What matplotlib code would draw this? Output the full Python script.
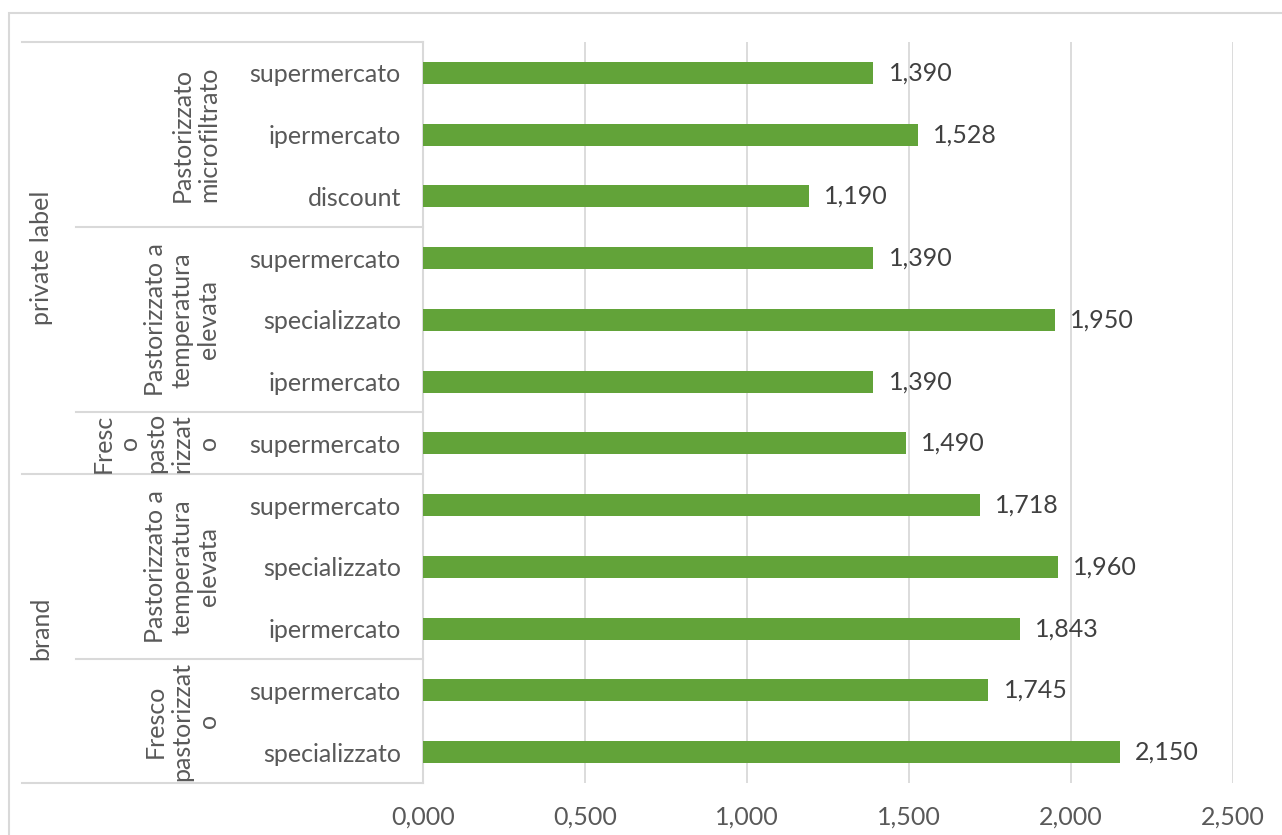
import numpy as np
import matplotlib
matplotlib.use('Agg')
import matplotlib.pyplot as plt
from matplotlib.patches import Rectangle

plt.rcParams['font.family'] = ['Lato', 'DejaVu Sans']

# categories from bottom to top
channels = ['specializzato', 'supermercato',
            'ipermercato', 'specializzato', 'supermercato',
            'supermercato',
            'ipermercato', 'specializzato', 'supermercato',
            'discount', 'ipermercato', 'supermercato']
prices = [2.150, 1.745,
          1.843, 1.960, 1.718,
          1.490,
          1.390, 1.950, 1.390,
          1.190, 1.528, 1.390]

# second level: (label, first index, last index)
types = [('Fresco\npastorizzat\no', 0, 1),
         ('Pastorizzato a\ntemperatura\nelevata', 2, 4),
         ('Fresc\no\npasto\nrizzat\no', 5, 5),
         ('Pastorizzato a\ntemperatura\nelevata', 6, 8),
         ('Pastorizzato\nmicrofiltrato', 9, 11)]
# first level
owners = [('brand', 0, 4), ('private label', 5, 11)]

xticks = [0, 0.5, 1.0, 1.5, 2.0, 2.5]

grey = '#d9d9d9'
txt = '#595959'
fs = 18

fig = plt.figure(figsize=(12.82, 8.35), dpi=100)
ax = fig.add_axes([0.330, 0.0623, 0.6318, 0.8874])

y = np.arange(len(prices))
ax.barh(y, prices, height=0.356, color='#62a339', zorder=3)
for yi, v in zip(y, prices):
    ax.annotate(f'{v:.3f}'.replace('.', ','), (v, yi), xytext=(11, 0),
                textcoords='offset points', va='center', ha='left',
                fontsize=fs, color='#404040')

ax.set_xlim(0, 2.5)
ax.set_ylim(-0.5, len(prices) - 0.5)
ax.set_xticks(xticks)
ax.set_xticklabels([f'{t:.3f}'.replace('.', ',') for t in xticks],
                   fontsize=fs, color=txt)
ax.set_yticks(y)
ax.set_yticklabels(channels, fontsize=fs, color=txt)
ax.tick_params(axis='y', length=0, pad=16)
ax.tick_params(axis='x', length=0, pad=16)
ax.grid(axis='x', color=grey, linewidth=1.3, zorder=0)
for s in ['top', 'right', 'bottom']:
    ax.spines[s].set_visible(False)
ax.spines['left'].set_color(grey)
ax.spines['left'].set_linewidth(1.5)

# separators of the category table
tr = ax.get_yaxis_transform()
x0 = (22 - 423) / 810
x1 = (76 - 423) / 810
for lab, a, b in owners:
    ax.plot([x0, 0], [b + 0.5, b + 0.5], transform=tr, color=grey,
            lw=1.5, clip_on=False)
    ax.text((41 - 423) / 810, (a + b) / 2, lab, transform=tr, rotation=90,
            ha='center', va='center', fontsize=fs, color=txt)
ax.plot([x0, 0], [-0.5, -0.5], transform=tr, color=grey, lw=1.5, clip_on=False)
for lab, a, b in types:
    if b != 4 and b != 11:
        ax.plot([x1, 0], [b + 0.5, b + 0.5], transform=tr, color=grey,
                lw=1.5, clip_on=False)
    ax.text((220 - 423) / 810, (a + b) / 2, lab, transform=tr, rotation=90,
            ha='right', va='center', multialignment='center',
            fontsize=fs, color=txt, linespacing=1.18)

# chart frame
fig.patches.append(Rectangle((9 / 1282, -0.1), 1.2, 0.1 + 1 - 13 / 835,
                             transform=fig.transFigure, fill=False,
                             edgecolor=grey, linewidth=1.5))

fig.savefig('out.png', dpi=100)
